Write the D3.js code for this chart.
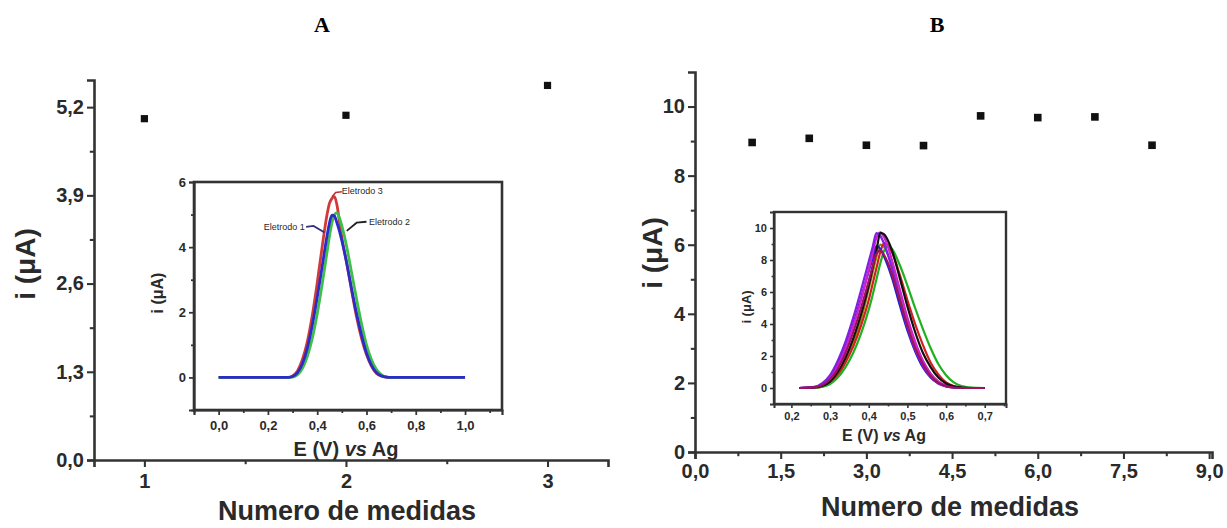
<!DOCTYPE html>
<html>
<head>
<meta charset="utf-8">
<script src="https://cdn.jsdelivr.net/npm/d3@7"></script>
<style>
  body { margin: 0; background: #fff; }
  text { font-family: "Liberation Sans", Arial, sans-serif; font-weight: bold; fill: #2a2a2a; }
  .panel-title { font-family: "Liberation Serif", "Times New Roman", serif; fill: #000; }
  .domain, .tick line { stroke: #333; }
</style>
</head>
<body>
<script>
// ---- panel A: main points ----
const measA = [1, 2, 3];
const currentA = [5.03, 5.08, 5.52];
const yTicksA = [0, 1.3, 2.6, 3.9, 5.2];
const xTicksA = [1, 2, 3];

// ---- panel A inset: voltammograms ----
const potA = [0, 0.1, 0.2, 0.28, 0.30, 0.32, 0.34, 0.36, 0.38, 0.40, 0.42, 0.44, 0.45, 0.46, 0.47,
  0.48, 0.49, 0.50, 0.52, 0.54, 0.56, 0.58, 0.60, 0.62, 0.64, 0.66, 0.68, 0.70, 0.8, 0.9, 1.0];
const eletrodo3 = [0, 0, 0, 0, 0.05, 0.2, 0.55, 1.1, 1.9, 2.9, 4.0, 5.0, 5.35, 5.5, 5.55,
  5.3, 4.8, 4.3, 3.5, 2.65, 1.85, 1.2, 0.7, 0.35, 0.13, 0.04, 0.01, 0, 0, 0, 0];
const eletrodo2 = [0, 0, 0, 0, 0.01, 0.08, 0.28, 0.65, 1.2, 1.95, 2.85, 3.85, 4.35, 4.75, 5.0,
  5.05, 4.9, 4.65, 4.0, 3.2, 2.4, 1.65, 1.0, 0.55, 0.25, 0.09, 0.02, 0, 0, 0, 0];
const eletrodo1 = [0, 0, 0, 0, 0.03, 0.15, 0.42, 0.9, 1.6, 2.45, 3.4, 4.35, 4.75, 4.98, 4.95,
  4.75, 4.5, 4.2, 3.5, 2.7, 1.95, 1.3, 0.75, 0.38, 0.15, 0.05, 0.01, 0, 0, 0, 0];

// ---- panel B: main points ----
const measB = [1, 2, 3, 4, 5, 6, 7, 8];
const currentB = [8.96, 9.08, 8.88, 8.87, 9.73, 9.68, 9.70, 8.88];
const yTicksB = [0, 2, 4, 6, 8, 10];
const xTicksB = [0, 1.5, 3, 4.5, 6, 7.5, 9];

// ---- panel B inset: 8 repeated measurements ----
const potB = [0.22, 0.26, 0.28, 0.30, 0.32, 0.34, 0.36, 0.38, 0.40, 0.41, 0.42, 0.43, 0.44, 0.45,
  0.46, 0.48, 0.50, 0.52, 0.54, 0.56, 0.58, 0.60, 0.62, 0.64, 0.66, 0.68, 0.70];
const med1 = [0, 0.03, 0.12, 0.4, 0.95, 1.8, 2.9, 4.3, 6.2, 7.2, 8.2, 8.96, 8.8, 8.3, 7.6, 5.9, 4.2, 2.8, 1.7, 0.9, 0.4, 0.15, 0.05, 0.01, 0, 0, 0];
const med2 = [0, 0.02, 0.1, 0.32, 0.8, 1.6, 2.6, 3.9, 5.5, 6.5, 7.5, 8.5, 9.05, 8.9, 8.5, 7.1, 5.5, 4.0, 2.7, 1.6, 0.85, 0.35, 0.12, 0.03, 0, 0, 0];
const med3 = [0, 0.02, 0.08, 0.25, 0.65, 1.3, 2.2, 3.4, 4.9, 5.8, 6.8, 7.8, 8.6, 8.88, 8.7, 7.7, 6.4, 5.0, 3.7, 2.5, 1.5, 0.8, 0.35, 0.12, 0.04, 0.01, 0];
const med4 = [0, 0.06, 0.25, 0.7, 1.5, 2.6, 4.0, 5.6, 7.3, 8.1, 8.87, 8.7, 8.2, 7.6, 6.9, 5.2, 3.6, 2.3, 1.3, 0.65, 0.28, 0.1, 0.03, 0, 0, 0, 0];
const med5 = [0, 0.05, 0.22, 0.65, 1.4, 2.5, 3.9, 5.5, 7.4, 8.4, 9.4, 9.73, 9.4, 8.8, 8.0, 6.2, 4.4, 2.9, 1.7, 0.9, 0.4, 0.15, 0.05, 0.01, 0, 0, 0];
const med6 = [0, 0.07, 0.3, 0.8, 1.7, 2.9, 4.4, 6.1, 7.9, 8.8, 9.68, 9.5, 9.0, 8.3, 7.5, 5.6, 3.8, 2.4, 1.4, 0.7, 0.3, 0.1, 0.03, 0, 0, 0, 0];
const med7 = [0, 0.03, 0.12, 0.4, 1.0, 1.9, 3.1, 4.6, 6.4, 7.5, 8.6, 9.7, 9.6, 9.2, 8.6, 6.9, 5.1, 3.5, 2.2, 1.3, 0.65, 0.28, 0.1, 0.03, 0, 0, 0];
const med8 = [0, 0.04, 0.18, 0.55, 1.2, 2.2, 3.5, 5.0, 6.7, 7.6, 8.4, 8.6, 8.3, 7.8, 7.1, 5.5, 3.9, 2.5, 1.5, 0.75, 0.32, 0.12, 0.03, 0, 0, 0, 0];
const medB = [med1, med2, med3, med4, med5, med6, med7, med8];
const medColors = ["#8a8a00", "#d02020", "#20b020", "#2020d0", "#d020d0", "#8020e0", "#111", "#a01060"];

const ptBR = d3.formatLocale({decimal: ",", thousands: ".", grouping: [3], currency: ["", ""]});
const f1 = ptBR.format(".1f");

const svg = d3.select("body").append("svg")
    .attr("width", 1227)
    .attr("height", 528)
    .style("background", "#fff");

// draws left + bottom axes with major/minor ticks
function drawAxes(g, x, y, o) {
  const x0 = x.range()[0], y0 = y.range()[0];
  g.append("g").attr("transform", "translate(" + x0 + ",0)")
      .call(d3.axisLeft(y).tickValues(o.yTicks).tickSize(o.tick).tickPadding(3).tickFormat(o.yFmt));
  g.append("g").attr("transform", "translate(" + x0 + ",0)")
      .call(d3.axisLeft(y).tickValues(o.yMinor).tickSize(o.tick * 0.6).tickFormat(""))
      .select(".domain").remove();
  g.append("g").attr("transform", "translate(0," + y0 + ")")
      .call(d3.axisBottom(x).tickValues(o.xTicks).tickSize(o.tick).tickPadding(o.xPad).tickFormat(o.xFmt));
  g.append("g").attr("transform", "translate(0," + y0 + ")")
      .call(d3.axisBottom(x).tickValues(o.xMinor).tickSize(o.tick * 0.6).tickFormat(""))
      .select(".domain").remove();
  g.selectAll(".domain").attr("stroke-width", o.sw);
  g.selectAll(".tick line").attr("stroke-width", o.sw * 0.8);
  g.selectAll(".tick text").style("font-size", o.fs + "px").attr("fill", "#2a2a2a");
}

// ===================== Panel A =====================
svg.append("text").attr("class", "panel-title")
    .attr("x", 322).attr("y", 32).attr("text-anchor", "middle")
    .style("font-size", "22px").text("A");

const xA = d3.scaleLinear().domain([0.75, 3.3]).range([94, 608]);
const yA = d3.scaleLinear().domain([0, 5.6]).range([460, 80]);
const gA = svg.append("g");
drawAxes(gA, xA, yA, {
  yTicks: yTicksA, yMinor: [0.65, 1.95, 3.25, 4.55], yFmt: f1,
  xTicks: xTicksA, xMinor: [1.5, 2.5], xFmt: d3.format("d"),
  tick: 7, sw: 2.6, fs: 20, xPad: 7
});
gA.append("text").attr("transform", "translate(35,264) rotate(-90)")
    .attr("text-anchor", "middle").style("font-size", "28px").text("i (μA)");
gA.append("text").attr("x", 347).attr("y", 520)
    .attr("text-anchor", "middle").style("font-size", "27px").text("Numero de medidas");

gA.selectAll(".pt").data(measA).enter().append("path")
    .attr("transform", (d, i) => "translate(" + xA(d) + "," + yA(currentA[i]) + ")")
    .attr("d", d3.symbol(d3.symbolSquare, 52)).attr("fill", "#111");

// inset A
const ixA = d3.scaleLinear().domain([-0.1, 1.15]).range([194, 502]);
const iyA = d3.scaleLinear().domain([-1, 6]).range([410, 182]);
const giA = svg.append("g");
giA.append("rect").attr("x", 194).attr("y", 182).attr("width", 308).attr("height", 228)
    .attr("fill", "#fff").attr("stroke", "#333").attr("stroke-width", 2.6);
drawAxes(giA, ixA, iyA, {
  yTicks: [0, 2, 4, 6], yMinor: [-1, 1, 3, 5], yFmt: d3.format("d"),
  xTicks: [0, 0.2, 0.4, 0.6, 0.8, 1.0], xMinor: [-0.1, 0.1, 0.3, 0.5, 0.7, 0.9, 1.1], xFmt: f1,
  tick: 5, sw: 2.2, fs: 13, xPad: 6
});
giA.append("text").attr("transform", "translate(163,293) rotate(-90)")
    .attr("text-anchor", "middle").style("font-size", "16px").text("i (μA)");
const titleA = giA.append("text").attr("x", 346).attr("y", 456)
    .attr("text-anchor", "middle").style("font-size", "20px");
titleA.append("tspan").text("E (V) ");
titleA.append("tspan").style("font-style", "italic").text("vs");
titleA.append("tspan").text(" Ag");

const lineA = d3.line().x((d, i) => ixA(potA[i])).y(d => iyA(d)).curve(d3.curveMonotoneX);
[[eletrodo3, "#d23a3a"], [eletrodo2, "#3cc04a"], [eletrodo1, "#2b2bc8"]].forEach(([s, c]) => {
  giA.append("path").datum(s).attr("d", lineA)
      .attr("fill", "none").attr("stroke", c).attr("stroke-width", 2.8);
});

// electrode labels
giA.append("path").attr("d", d3.line()([[ixA(0.46), iyA(5.55)], [ixA(0.475), iyA(5.68)], [ixA(0.5), iyA(5.7)]]))
    .attr("fill", "none").attr("stroke", "#c03030").attr("stroke-width", 1.6);
giA.append("text").attr("x", ixA(0.5)).attr("y", iyA(5.62)).style("font-size", "9px")
    .style("font-weight", "normal").attr("fill", "#a04040").text("Eletrodo 3");
giA.append("path").attr("d", d3.line()([[ixA(0.355), iyA(4.62)], [ixA(0.385), iyA(4.65)], [ixA(0.43), iyA(4.45)]]))
    .attr("fill", "none").attr("stroke", "#303080").attr("stroke-width", 1.8);
giA.append("text").attr("x", ixA(0.35)).attr("y", iyA(4.52)).attr("text-anchor", "end")
    .style("font-size", "9px").style("font-weight", "normal").attr("fill", "#40408a").text("Eletrodo 1");
giA.append("path").attr("d", d3.line()([[ixA(0.6), iyA(4.78)], [ixA(0.56), iyA(4.75)], [ixA(0.52), iyA(4.5)]]))
    .attr("fill", "none").attr("stroke", "#222").attr("stroke-width", 1.8);
giA.append("text").attr("x", ixA(0.61)).attr("y", iyA(4.67))
    .style("font-size", "9px").style("font-weight", "normal").attr("fill", "#333").text("Eletrodo 2");

// ===================== Panel B =====================
svg.append("text").attr("class", "panel-title")
    .attr("x", 937).attr("y", 32).attr("text-anchor", "middle")
    .style("font-size", "22px").text("B");

const xB = d3.scaleLinear().domain([0, 9.05]).range([695, 1212]);
const yB = d3.scaleLinear().domain([0, 11]).range([452, 72]);
const gB = svg.append("g");
drawAxes(gB, xB, yB, {
  yTicks: yTicksB, yMinor: [1, 3, 5, 7, 9], yFmt: d3.format("d"),
  xTicks: xTicksB, xMinor: [0.75, 2.25, 3.75, 5.25, 6.75, 8.25], xFmt: f1,
  tick: 7, sw: 2.6, fs: 20, xPad: 5
});
gB.append("text").attr("transform", "translate(662,253) rotate(-90)")
    .attr("text-anchor", "middle").style("font-size", "28px").text("i (μA)");
gB.append("text").attr("x", 950).attr("y", 516)
    .attr("text-anchor", "middle").style("font-size", "27px").text("Numero de medidas");

gB.selectAll(".pt").data(measB).enter().append("path")
    .attr("transform", (d, i) => "translate(" + xB(d) + "," + yB(currentB[i]) + ")")
    .attr("d", d3.symbol(d3.symbolSquare, 58)).attr("fill", "#111");

// inset B
const ixB = d3.scaleLinear().domain([0.155, 0.755]).range([774, 1006]);
const iyB = d3.scaleLinear().domain([-1, 11]).range([404, 212]);
const giB = svg.append("g");
giB.append("rect").attr("x", 774).attr("y", 212).attr("width", 232).attr("height", 192)
    .attr("fill", "#fff").attr("stroke", "#333").attr("stroke-width", 2.4);
drawAxes(giB, ixB, iyB, {
  yTicks: [0, 2, 4, 6, 8, 10], yMinor: [1, 3, 5, 7, 9], yFmt: d3.format("d"),
  xTicks: [0.2, 0.3, 0.4, 0.5, 0.6, 0.7], xMinor: [0.25, 0.35, 0.45, 0.55, 0.65, 0.75], xFmt: f1,
  tick: 4, sw: 2, fs: 11, xPad: 4
});
giB.append("text").attr("transform", "translate(751,307) rotate(-90)")
    .attr("text-anchor", "middle").style("font-size", "13px").text("i (μA)");
const titleB = giB.append("text").attr("x", 884).attr("y", 441)
    .attr("text-anchor", "middle").style("font-size", "16px");
titleB.append("tspan").text("E (V) ");
titleB.append("tspan").style("font-style", "italic").text("vs");
titleB.append("tspan").text(" Ag");

const lineB = d3.line().x((d, i) => ixB(potB[i])).y(d => iyB(d)).curve(d3.curveMonotoneX);
medB.forEach((s, k) => {
  giB.append("path").datum(s).attr("d", lineB)
      .attr("fill", "none").attr("stroke", medColors[k]).attr("stroke-width", 2.2);
});
</script>
</body>
</html>
